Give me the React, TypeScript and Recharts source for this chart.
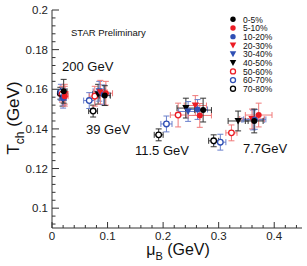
import React from 'react'
import { ScatterChart, Scatter, XAxis, YAxis, ErrorBar } from 'recharts'

// centrality classes, one series each; columns follow energies
const centralities = ['0-5%', '5-10%', '10-20%', '20-30%', '30-40%', '40-50%', '50-60%', '60-70%', '70-80%']
const energies = ['200 GeV', '39 GeV', '11.5 GeV', '7.7GeV']

const muB = [
  [0.021, 0.095, 0.272, 0.364],
  [0.023, 0.097, 0.266, 0.372],
  [0.020, 0.093, 0.262, 0.365],
  [0.023, 0.087, 0.258, 0.360],
  [0.021, 0.085, 0.245, 0.362],
  [0.019, 0.083, 0.241, 0.335],
  [0.018, 0.077, 0.227, 0.323],
  [0.016, 0.067, 0.206, 0.303],
  [0.015, 0.074, 0.192, 0.291],
]

const tch = [
  [0.159, 0.1568, 0.1495, 0.144],
  [0.1565, 0.158, 0.1468, 0.147],
  [0.1555, 0.1572, 0.1498, 0.1448],
  [0.1575, 0.1585, 0.1518, 0.145],
  [0.156, 0.159, 0.1488, 0.1445],
  [0.1555, 0.1575, 0.1505, 0.144],
  [0.1575, 0.1565, 0.147, 0.138],
  [0.1585, 0.1543, 0.1425, 0.1333],
  [0.158, 0.149, 0.137, 0.134],
]

const muErr = [
  [0.006, 0.01, 0.015, 0.016],
  [0.006, 0.012, 0.021, 0.024],
  [0.006, 0.011, 0.018, 0.02],
  [0.006, 0.012, 0.02, 0.022],
  [0.005, 0.011, 0.017, 0.02],
  [0.005, 0.01, 0.016, 0.018],
  [0.005, 0.01, 0.014, 0.01],
  [0.005, 0.01, 0.01, 0.01],
  [0.004, 0.008, 0.008, 0.009],
]

const tchErr = [
  [0.006, 0.005, 0.006, 0.006],
  [0.005, 0.006, 0.006, 0.006],
  [0.005, 0.005, 0.005, 0.005],
  [0.005, 0.006, 0.005, 0.005],
  [0.004, 0.005, 0.005, 0.005],
  [0.004, 0.005, 0.005, 0.005],
  [0.004, 0.005, 0.006, 0.004],
  [0.004, 0.004, 0.004, 0.004],
  [0.003, 0.003, 0.003, 0.003],
]

const xTicks = [0, 0.02, 0.04, 0.06, 0.08, 0.1, 0.12, 0.14, 0.16, 0.18, 0.2, 0.22, 0.24, 0.26, 0.28, 0.3, 0.32, 0.34, 0.36, 0.38, 0.4, 0.42, 0.44]
const yTicks = [0.092, 0.096, 0.1, 0.104, 0.108, 0.112, 0.116, 0.12, 0.124, 0.128, 0.132, 0.136, 0.14, 0.144, 0.148, 0.152, 0.156, 0.16, 0.164, 0.168, 0.172, 0.176, 0.18, 0.184, 0.188, 0.192, 0.196, 0.2]

const RED = '#ec1c24'
const BLUE = '#2f4fb4'
const BLACK = '#000'
const styles = [
  { color: BLACK, err: '#333', kind: 'circle' },
  { color: RED, err: '#f07a7a', kind: 'circle' },
  { color: BLUE, err: '#6a80cc', kind: 'circle' },
  { color: RED, err: '#f07a7a', kind: 'tri' },
  { color: BLUE, err: '#6a80cc', kind: 'tri' },
  { color: BLACK, err: '#333', kind: 'tri' },
  { color: RED, err: '#f07a7a', kind: 'open' },
  { color: BLUE, err: '#6a80cc', kind: 'open' },
  { color: BLACK, err: '#333', kind: 'open' },
]

const FONT = '"Liberation Sans", Arial, sans-serif'

function Marker({ cx, cy, color, kind, s = 1 }: any) {
  if (kind === 'circle') return <circle cx={cx} cy={cy} r={3 * s} fill={color} />
  if (kind === 'tri') {
    const a = 3.6 * s
    return <polygon points={`${cx - a},${cy - a * 0.85} ${cx + a},${cy - a * 0.85} ${cx},${cy + a}`} fill={color} />
  }
  return <circle cx={cx} cy={cy} r={2.8 * s} fill='#fff' stroke={color} strokeWidth={1.3} />
}

const isMajor = (v: number, n: number) => Math.abs(v * n - Math.round(v * n)) < 1e-6

function XTick({ x, y, payload }: any) {
  const major = isMajor(payload.value, 10)
  return (
    <g>
      <line x1={x} x2={x} y1={y} y2={y - (major ? 6 : 3)} stroke='#333' />
      {major && (
        <text x={x} y={y + 12} textAnchor='middle' fontSize={11.5} fontFamily={FONT} fill='#222'>
          {Number(payload.value.toFixed(2)).toString()}
        </text>
      )}
    </g>
  )
}

function YTick({ x, y, payload }: any) {
  const major = isMajor(payload.value, 50)
  return (
    <g>
      <line x1={x} x2={x + (major ? 7 : 3.5)} y1={y} y2={y} stroke='#333' />
      {major && (
        <text x={x - 4} y={y + 4} textAnchor='end' fontSize={11.5} fontFamily={FONT} fill='#222'>
          {Number(payload.value.toFixed(2)).toString()}
        </text>
      )}
    </g>
  )
}

export default function App() {
  const series = centralities.map((name, i) => ({
    name,
    style: styles[i],
    data: energies.map((_, j) => ({ x: muB[i][j], y: tch[i][j], ex: muErr[i][j], ey: tchErr[i][j] })),
  }))

  return (
    <div style={{ position: 'absolute', left: 0, top: 0, width: 307, height: 266, background: '#fff' }}>
      <ScatterChart width={307} height={266} margin={{ top: 10, right: 5, bottom: 0, left: 0 }}>
        <XAxis
          type='number'
          dataKey='x'
          domain={[0, 0.45]}
          ticks={xTicks}
          interval={0}
          tickSize={0}
          tickMargin={0}
          tickLine={false}
          tick={<XTick />}
          axisLine={{ stroke: '#333' }}
          height={38}
          allowDataOverflow
        />
        <YAxis
          type='number'
          dataKey='y'
          domain={[0.09, 0.2]}
          ticks={yTicks}
          interval={0}
          tickSize={0}
          tickMargin={0}
          tickLine={false}
          tick={<YTick />}
          axisLine={{ stroke: '#333' }}
          width={52}
          allowDataOverflow
        />
        {[...series].reverse().map((s) => (
          <Scatter
            key={s.name}
            name={s.name}
            data={s.data}
            isAnimationActive={false}
            shape={(p: any) => <Marker cx={p.cx} cy={p.cy} color={s.style.color} kind={s.style.kind} />}
          >
            <ErrorBar dataKey='ex' direction='x' width={3} stroke={s.style.err} strokeWidth={1} isAnimationActive={false} />
            <ErrorBar dataKey='ey' direction='y' width={3} stroke={s.style.err} strokeWidth={1} isAnimationActive={false} />
          </Scatter>
        ))}
      </ScatterChart>
      <svg width={307} height={266} style={{ position: 'absolute', left: 0, top: 0, pointerEvents: 'none' }} fontFamily={FONT}>
        <text x={71} y={35.5} fontSize={9.5} fill='#111'>STAR Preliminary</text>
        <text x={62} y={70.7} fontSize={13} fill='#111'>{energies[0]}</text>
        <text x={86} y={134} fontSize={13} fill='#111'>{energies[1]}</text>
        <text x={135} y={155} fontSize={13} fill='#111'>{energies[2]}</text>
        <text x={243} y={152.7} fontSize={13} fill='#111'>{energies[3]}</text>
        <text transform='translate(19,118) rotate(-90)' textAnchor='middle' fontSize={17} fill='#111'>
          T<tspan fontSize={12} dy={5}>ch</tspan>
          <tspan dy={-5}> (GeV)</tspan>
        </text>
        <text x={178} y={255} textAnchor='middle' fontSize={16} fill='#111'>
          μ<tspan fontSize={11} dy={5}>B</tspan>
          <tspan dy={-5}> (GeV)</tspan>
        </text>
        {centralities.map((c, i) => (
          <g key={c}>
            <Marker cx={233} cy={19.3 + i * 8.68} color={styles[i].color} kind={styles[i].kind} s={0.9} />
            <text x={243} y={22.5 + i * 8.68} fontSize={8.5} fill='#111'>{c}</text>
          </g>
        ))}
      </svg>
    </div>
  )
}
